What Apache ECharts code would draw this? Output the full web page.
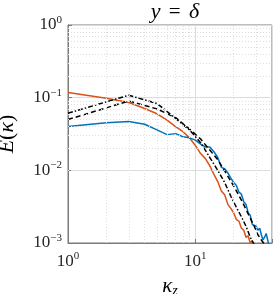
<!DOCTYPE html>
<html><head><meta charset="utf-8">
<script src="https://cdn.jsdelivr.net/npm/echarts@6/dist/echarts.min.js"></script>
<style>html,body{margin:0;padding:0;background:#fff}#c{width:273px;height:294px}</style>
</head><body><div id="c"></div>
<script>
// ---- data ----
var kzOrange = [1,2,3,4,5,6,7,8,9,10,11,12,13,14,15,16,17,18,19,20,21,22,23,24,25,26,27,28,29];
var eOrange  = [0.118,0.098,0.086,0.071,0.060,0.049,0.040,0.034,0.028,0.022,0.017,0.0145,0.0115,0.0088,0.0070,0.0052,0.0046,0.0034,0.0030,0.0026,0.0021,0.0020,0.0016,0.0015,0.0012,0.00125,0.00100,0.00108,0.00085];
var kzBlue = [1,2,3,4,5,6,7,8,9,10,11,12,13,14,15,16,17,18,19,20,21,22,23,24,25,26,27,28,29,30,31,32,33,34,35,36,37,38,39];
var eBlue  = [0.040,0.045,0.047,0.043,0.036,0.031,0.032,0.029,0.028,0.026,0.023,0.021,0.021,0.018,0.015,0.011,0.0105,0.0092,0.0078,0.0068,0.0062,0.0050,0.0047,0.0037,0.0034,0.0026,0.0024,0.0018,0.0019,0.0017,0.0015,0.0016,0.0013,0.0011,0.0012,0.00135,0.0011,0.0009,0.0008];
var kzDashDot = [1,3,5,7,9,11,13,15,17,19,21,23,25,27,29,31];
var eDashDot  = [0.061,0.108,0.083,0.052,0.036,0.024,0.0150,0.0100,0.0068,0.0044,0.0031,0.0023,0.0017,0.0012,0.00095,0.0007];
var kzDashed = [1,3,5,7,9,11,13,15,17,19,21,23,25,27,29,31,33,35,37];
var eDashed  = [0.050,0.090,0.070,0.053,0.037,0.027,0.019,0.014,0.0098,0.0071,0.0052,0.0039,0.0029,0.0022,0.0017,0.0013,0.0011,0.00095,0.0008];
var xTicks = [1,10];
var yTicks = [0.001,0.01,0.1,1];
var xRange = [1,40];
var yRange = [0.001,1];

function pairs(xs, ys){ return xs.map(function(x,i){return [x, ys[i]];}); }
function powLabel(v){
  var e = Math.round(Math.log10(v));
  if (Math.abs(Math.log10(v) - e) > 1e-6) return '';
  return '{b|10}{s|' + (e < 0 ? '\u2212' + (-e) : e) + '}';
}
var FONT = 'Liberation Serif';
var rich = {
  b: {fontFamily: FONT, fontSize: 17, color: '#262626'},
  s: {fontFamily: FONT, fontSize: 11, color: '#262626', padding: [0,0,10,0]}
};
// minor grid positions (2..9 within each decade)
var minorX = [], minorY = [];
for (var d = 1; d <= 10; d *= 10) for (var m = 2; m <= 9; m++) { var v = m*d; if (v < xRange[1]) minorX.push({xAxis: v}); }
[0.001,0.01,0.1].forEach(function(d){ for (var m = 2; m <= 9; m++) minorY.push({yAxis: m*d}); });

var chart = echarts.init(document.getElementById('c'), null, {renderer: 'canvas'});
chart.setOption({
  animation: false,
  title: {
    text: '{i|y} {n|=} {i|\u03b4}', left: 170, top: -4, textAlign: 'center',
    textStyle: {fontFamily: FONT, fontSize: 21, fontWeight: 'normal', color: '#000',
      rich: {i: {fontFamily: FONT, fontSize: 22, fontStyle: 'italic', color: '#000'},
             n: {fontFamily: FONT, fontSize: 21, color: '#000', padding: [0,3,0,3]}}}
  },
  grid: {left: 68, right: 1, top: 25, bottom: 51, containLabel: false, outerBoundsMode: 'none',
    show: true, borderColor: '#7a7a7a', borderWidth: 1, backgroundColor: 'transparent'},
  xAxis: {
    type: 'log', logBase: 10, min: xRange[0], max: xRange[1],
    name: '{i|\u03ba}{z|z}', nameLocation: 'middle', nameGap: 31,
    nameTextStyle: {rich: {i: {fontFamily: FONT, fontSize: 21, fontStyle: 'italic', color: '#000'}, z: {fontFamily: FONT, fontSize: 14, fontStyle: 'italic', color: '#000', padding: [10,0,0,0]}}},
    axisLine: {show: true, lineStyle: {color: '#7a7a7a'}},
    axisTick: {show: true, inside: true, length: 4, lineStyle: {color: '#7a7a7a'}},
    axisLabel: {margin: 8, formatter: function(v){ return xTicks.indexOf(Math.round(v)) >= 0 ? powLabel(v) : ''; }, rich: rich},
    splitLine: {show: true, lineStyle: {color: '#dcdcdc', width: 1}}
  },
  yAxis: {
    type: 'log', logBase: 10, min: yRange[0], max: yRange[1],
    name: '{i|E}{n|(}{i|\u03ba}{n|)}', nameLocation: 'middle', nameGap: 50, nameRotate: 90,
    nameTextStyle: {rich: {i: {fontFamily: FONT, fontSize: 22, fontStyle: 'italic', color: '#000'}, n: {fontFamily: FONT, fontSize: 22, color: '#000'}}},
    axisLine: {show: true, lineStyle: {color: '#7a7a7a'}},
    axisTick: {show: true, inside: true, length: 4, lineStyle: {color: '#7a7a7a'}},
    axisLabel: {margin: 6, formatter: function(v){ return powLabel(v); }, rich: rich},
    splitLine: {show: true, lineStyle: {color: '#dcdcdc', width: 1}}
  },
  series: [
    {type: 'line', data: [], markLine: {silent: true, symbol: 'none', label: {show: false},
      lineStyle: {color: '#dedede', type: [1,2], width: 1}, data: minorX.concat(minorY)}},
    {name: 'orange', type: 'line', data: pairs(kzOrange, eOrange), showSymbol: false, clip: true,
      lineStyle: {color: '#D95319', width: 1.5}},
    {name: 'blue', type: 'line', data: pairs(kzBlue, eBlue), showSymbol: false, clip: true,
      lineStyle: {color: '#0072BD', width: 1.5}},
    {name: 'dashed', type: 'line', data: pairs(kzDashed, eDashed), showSymbol: false, clip: true,
      lineStyle: {color: '#000', width: 1.5, type: [5,3]}},
    {name: 'dashdot', type: 'line', data: pairs(kzDashDot, eDashDot), showSymbol: false, clip: true,
      lineStyle: {color: '#000', width: 1.5, type: [5,2,1.5,2]}}
  ]
});
</script></body></html>
